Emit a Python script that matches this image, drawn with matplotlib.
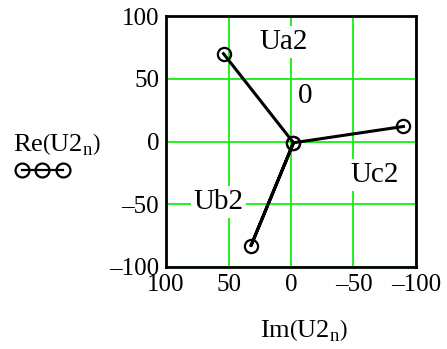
import numpy as np
import matplotlib
matplotlib.use('Agg')
import matplotlib.pyplot as plt
from matplotlib.lines import Line2D

plt.rcParams['font.family'] = 'Liberation Serif'
plt.rcParams['mathtext.fontset'] = 'custom'
plt.rcParams['mathtext.rm'] = 'Liberation Serif'
plt.rcParams['mathtext.it'] = 'Liberation Serif'

# phase voltages U2 (a, neutral, b, neutral, c) as Im / Re parts
im_u2 = [54, -2, 32, -2, -90]
re_u2 = [70, -1, -83, -1, 12]

phase_names = ['Ua2', '0', 'Ub2', 'Uc2']
name_im = [6, -11, 58, -67]
name_re = [79, 36, -48, -27]

ticks = [100, 50, 0, -50, -100]
tick_labels = ['100', '50', '0', '\u201350', '\u2013100']

fig = plt.figure(figsize=(4.47, 3.49), dpi=100)
ax = fig.add_axes([0.3714, 0.235, 0.5592, 0.719])

ax.plot(im_u2, re_u2, color='black', lw=2.2, marker='o', ms=9.5,
        mfc='none', mec='black', mew=1.6, zorder=5)

for name, x, y in zip(phase_names, name_im, name_re):
    ax.text(x, y, name, fontsize=21, ha='center', va='center', zorder=4,
            bbox=dict(facecolor='white', edgecolor='none', pad=2))

ax.set_xlim(100, -100)
ax.set_ylim(-100, 100)
ax.set_xticks(ticks)
ax.set_yticks(ticks)
ax.set_xticklabels(tick_labels)
ax.set_yticklabels(tick_labels)
ax.tick_params(length=0, labelsize=18, pad=5)
ax.grid(True, color='#00ee00', lw=1.2, zorder=1)
ax.set_axisbelow(True)
for sp in ax.spines.values():
    sp.set_linewidth(2)

fig.text(0.68, 0.054, r'$\mathrm{Im}\left(\mathrm{U2_n}\right)$', fontsize=19,
         ha='center', va='center')
fig.text(0.128, 0.587, r'$\mathrm{Re}\left(\mathrm{U2_n}\right)$', fontsize=19,
         ha='center', va='center')

# trace symbol under the y label
leg = Line2D([0.05, 0.095, 0.14], [0.513, 0.513, 0.513],
             transform=fig.transFigure, color='black', lw=1.6, marker='o',
             ms=10, mfc='none', mec='black', mew=1.6)
fig.add_artist(leg)

fig.savefig('out.png', dpi=100)
